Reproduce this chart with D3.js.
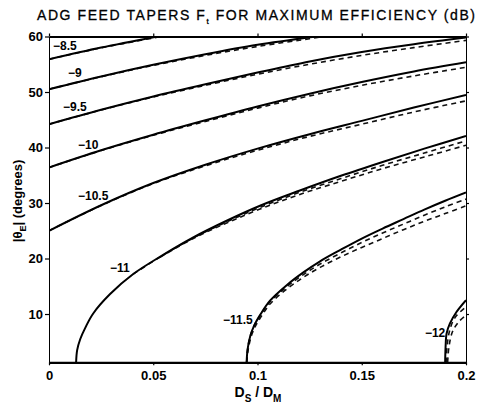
<!DOCTYPE html>
<html><head><meta charset="utf-8">
<script src="https://cdn.jsdelivr.net/npm/d3@7/dist/d3.min.js"></script>
<style>body{margin:0;background:#fff}</style>
</head><body>
<svg id="c" width="477" height="412"></svg>
<script>
// ---- data ----
const xTicks = [0, 0.05, 0.1, 0.15, 0.2];
const xTickLabels = ["0", "0.05", "0.1", "0.15", "0.2"];
const yTicks = [10, 20, 30, 40, 50, 60];
const contourLevels = ["-8.5", "-9", "-9.5", "-10", "-10.5", "-11", "-11.5", "-12"];

const solid_85 = [[0,55.9],[0.025,58.0],[0.052,60]];
const solid_9 = [[0,50.5],[0.025,52.8],[0.05,54.9],[0.075,56.8],[0.1,58.5],[0.128,60]];
const solid_95 = [[0,44.2],[0.025,46.8],[0.05,49.2],[0.075,51.4],[0.1,53.5],[0.125,55.5],[0.15,57.2],[0.175,58.6],[0.2,59.8]];
const solid_10 = [[0,36.4],[0.025,39.5],[0.05,42.3],[0.075,44.9],[0.1,47.4],[0.125,49.7],[0.15,51.8],[0.175,53.7],[0.2,55.35]];
const solid_105 = [[0,25.0],[0.025,29.6],[0.05,33.6],[0.075,36.9],[0.1,39.8],[0.125,42.4],[0.15,44.8],[0.175,47.2],[0.2,49.46]];
const solid_11 = [[0.013,1.3],[0.0135,3.5],[0.015,5.5],[0.0175,7.6],[0.0212,10.1],[0.0293,13.6],[0.0404,17.2],[0.0532,20.3],[0.0692,23.8],[0.0852,26.8],[0.1012,29.5],[0.12,32.2],[0.14,34.9],[0.16,37.4],[0.18,39.8],[0.2,42.07]];
const solid_115 = [[0.0948,1.3],[0.0952,3.5],[0.0965,6.0],[0.0985,8.0],[0.1012,9.8],[0.106,12.4],[0.114,15.2],[0.122,17.5],[0.13,19.5],[0.14,21.6],[0.15,23.6],[0.16,25.4],[0.17,27.1],[0.18,28.8],[0.19,30.4],[0.2,31.9]];
const solid_12 = [[0.19,1.3],[0.1902,4.0],[0.1907,6.5],[0.1923,8.3],[0.1955,10.4],[0.2,12.5]];

const dash_85 = [[0,55.9],[0.025,57.95],[0.054,60]];
const dash_9 = [[0,50.5],[0.025,52.75],[0.05,54.8],[0.075,56.6],[0.1,58.2],[0.125,59.6],[0.132,60]];
const dash_95 = [[0,44.2],[0.025,46.75],[0.05,49.1],[0.075,51.2],[0.1,53.2],[0.125,55.0],[0.15,56.6],[0.175,58.0],[0.2,59.3]];
const dash_10 = [[0,36.4],[0.025,39.45],[0.05,42.2],[0.075,44.7],[0.1,47.1],[0.125,49.3],[0.15,51.2],[0.175,52.9],[0.2,54.45]];
const dash_105 = [[0,25.0],[0.025,29.55],[0.05,33.5],[0.075,36.7],[0.1,39.5],[0.125,42.0],[0.15,44.2],[0.175,46.4],[0.2,48.4]];
const dash_11a = [[0.0404,17.2],[0.0532,20.25],[0.0692,23.7],[0.0852,26.6],[0.1012,29.2],[0.12,31.9],[0.14,34.4],[0.16,36.8],[0.18,39.0],[0.2,41.2]];
const dash_11b = [[0.0532,20.2],[0.0692,23.6],[0.0852,26.4],[0.1012,28.9],[0.12,31.5],[0.14,33.9],[0.16,36.2],[0.18,38.3],[0.2,40.4]];
const dash_115a = [[0.0948,1.3],[0.0952,3.5],[0.0965,6.0],[0.0985,8.0],[0.1012,9.7],[0.106,12.2],[0.114,14.9],[0.122,17.1],[0.13,19.0],[0.14,21.0],[0.15,22.9],[0.16,24.6],[0.17,26.2],[0.18,27.8],[0.19,29.3],[0.2,30.7]];
const dash_115b = [[0.0948,1.3],[0.0955,3.5],[0.097,6.0],[0.099,7.8],[0.1015,9.4],[0.106,11.8],[0.114,14.5],[0.122,16.6],[0.13,18.4],[0.14,20.3],[0.15,22.0],[0.16,23.6],[0.17,25.2],[0.18,26.7],[0.19,28.1],[0.2,29.5]];
const dash_12a = [[0.1905,1.3],[0.191,4.5],[0.1925,7.5],[0.195,9.5],[0.2,11.3]];
const dash_12b = [[0.1912,1.3],[0.1918,4.0],[0.1935,6.8],[0.1965,8.6],[0.2,9.8]];

const labelAt = [[0.0019,57.5],[0.0091,52.7],[0.0067,46.6],[0.0139,39.7],[0.0139,30.5],[0.0293,17.6],[0.0835,8.2],[0.1803,5.9]];

const solidCurves = [solid_85, solid_9, solid_95, solid_10, solid_105, solid_11, solid_115, solid_12];
const dashedCurves = [dash_85, dash_9, dash_95, dash_10, dash_105, dash_11a, dash_11b, dash_115a, dash_115b, dash_12a, dash_12b];

// ---- layout ----
const W = 477, H = 412;
const m = {left: 49, right: 11, top: 36.5, bottom: 49.7};
const svg = d3.select("#c");
const x = d3.scaleLinear().domain([0, 0.2]).range([m.left, W - m.right]);
const y = d3.scaleLinear().domain([1.3, 60]).range([H - m.bottom, m.top]);
const font = "'Liberation Sans', Arial, Helvetica, sans-serif";

svg.append("clipPath").attr("id", "pc").append("rect")
  .attr("x", m.left).attr("y", m.top).attr("width", W - m.left - m.right).attr("height", H - m.top - m.bottom);

const lineY = d3.line().x(d => x(d[0])).y(d => y(d[1])).curve(d3.curveCatmullRom.alpha(0.5));

const g = svg.append("g").attr("clip-path", "url(#pc)");
g.selectAll(".dash").data(dashedCurves).join("path")
  .attr("d", d => lineY(d)).attr("fill", "none").attr("stroke", "#111")
  .attr("stroke-width", 1.6).attr("stroke-dasharray", "5,4");
g.selectAll(".solid").data(solidCurves).join("path")
  .attr("d", d => lineY(d)).attr("fill", "none").attr("stroke", "#000")
  .attr("stroke-width", 2);

// axes
const axB = d3.axisBottom(x).tickValues(xTicks).tickFormat((d, i) => xTickLabels[i]).tickSize(3).tickSizeOuter(0);
const axL = d3.axisLeft(y).tickValues(yTicks).tickSize(4).tickSizeOuter(0);
const axT = d3.axisTop(x).tickValues(xTicks).tickFormat("").tickSize(3).tickSizeOuter(0);
const axR = d3.axisRight(y).tickValues(yTicks).tickFormat("").tickSize(3).tickSizeOuter(0);

const gb = svg.append("g").attr("transform", `translate(0,${H - m.bottom})`).call(axB);
const gl = svg.append("g").attr("transform", `translate(${m.left},0)`).call(axL);
const gt = svg.append("g").attr("transform", `translate(0,${m.top})`).call(axT);
const gr = svg.append("g").attr("transform", `translate(${W - m.right},0)`).call(axR);
[gb, gl, gt, gr].forEach(a => { a.selectAll("line").attr("stroke", "#000").attr("stroke-width", 1.2); a.select(".domain").attr("stroke", "#000"); });
gb.select(".domain").attr("stroke-width", 2.2);
gt.select(".domain").attr("stroke-width", 2);
gl.select(".domain").attr("stroke-width", 1);
gr.select(".domain").attr("stroke-width", 1);
gb.selectAll("text").attr("font-family", font).attr("font-size", 13).attr("font-weight", "bold").attr("fill", "#000").attr("dy", "0.71em").attr("y", 8.5);
gl.selectAll("text").attr("font-family", font).attr("font-size", 13).attr("font-weight", "bold").attr("fill", "#000").attr("x", -6);

// contour labels
svg.append("g").selectAll("text").data(contourLevels).join("text")
  .attr("x", (d, i) => x(labelAt[i][0])).attr("y", (d, i) => y(labelAt[i][1]))
  .attr("font-family", font).attr("font-size", 12).attr("font-weight", "bold")
  .text(d => d.replace("-", "\u2212"));

// title
const title = svg.append("text").attr("x", 37).attr("y", 20)
  .attr("font-family", font).attr("font-size", 14).attr("fill", "#000")
  .attr("stroke", "#000").attr("stroke-width", 0.3)
  .attr("textLength", 438).attr("lengthAdjust", "spacing");
title.append("tspan").text("ADG FEED TAPERS F");
title.append("tspan").attr("font-size", 8).attr("dy", 4).text("t");
title.append("tspan").attr("dy", -4).text(" FOR MAXIMUM EFFICIENCY (dB)");

// x label
const xl = svg.append("text").attr("x", 258).attr("y", 397).attr("text-anchor", "middle")
  .attr("font-family", font).attr("font-size", 14).attr("font-weight", "bold");
xl.append("tspan").text("D");
xl.append("tspan").attr("font-size", 10).attr("dy", 5).text("S");
xl.append("tspan").attr("dy", -5).text(" / D");
xl.append("tspan").attr("font-size", 10).attr("dy", 5).text("M");

// y label
const yl = svg.append("text").attr("transform", "translate(22,201) rotate(-90)").attr("text-anchor", "middle")
  .attr("font-family", font).attr("font-size", 13).attr("font-weight", "bold");
yl.append("tspan").text("|\u03B8");
yl.append("tspan").attr("font-size", 9).attr("dy", 4).text("E");
yl.append("tspan").attr("dy", -4).text("| (degrees)");
</script>
</body></html>
